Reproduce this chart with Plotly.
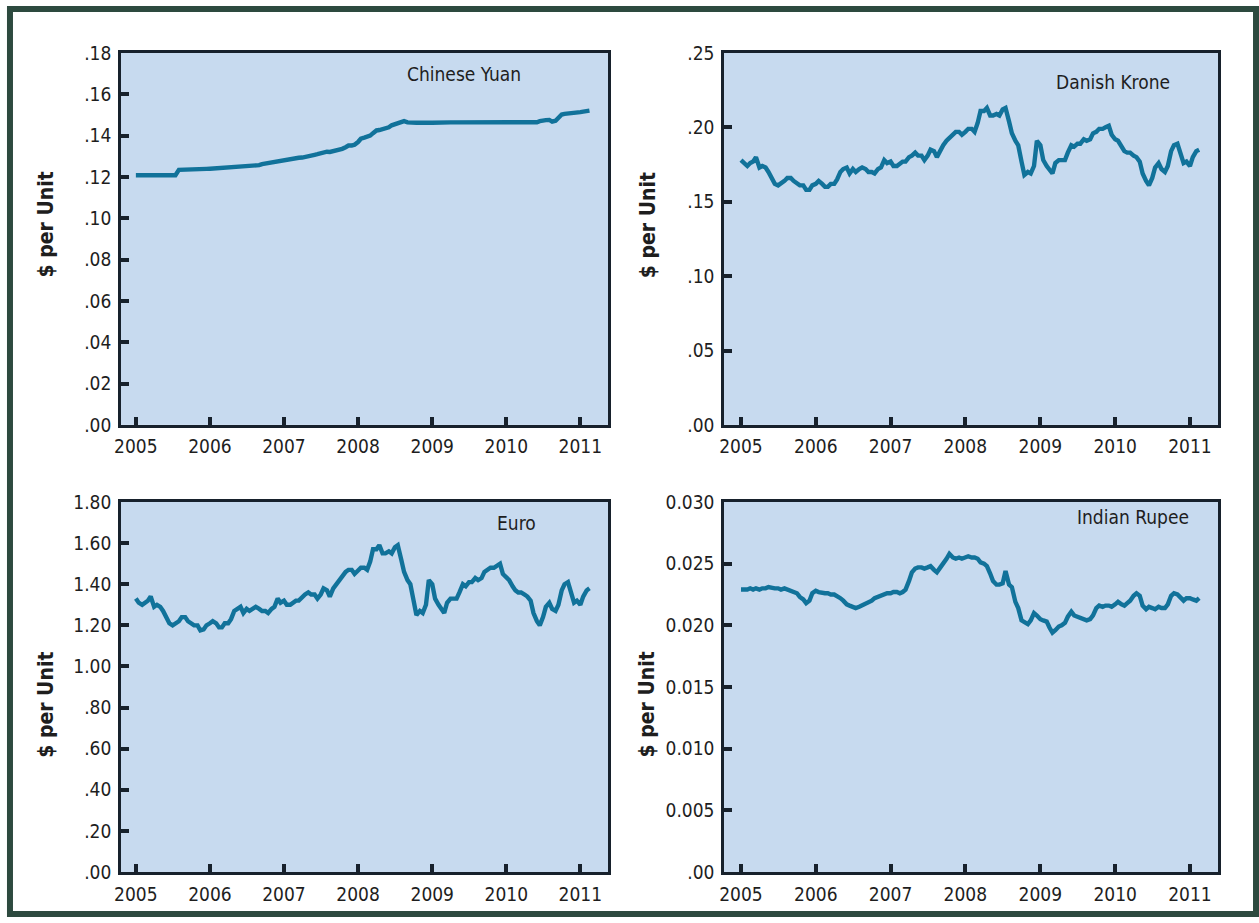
import plotly.graph_objects as go

# ---------------- data (semi-monthly readings, Jan 2005 - Feb 2011) ----------------
dates = []
for yr in range(2005, 2012):
    for mo in range(1, 13):
        for dy in (1, 15):
            if yr == 2011 and mo > 2:
                break
            dates.append(f"{yr}-{mo:02d}-{dy:02d}")

yuan = [
    0.1208, 0.1208, 0.1208, 0.1208, 0.1208, 0.1208, 0.1208, 0.1208, 0.1208, 0.1208, 0.1208, 0.1208,
    0.1208, 0.1208, 0.1234, 0.1234, 0.1236, 0.1236, 0.1237, 0.1238, 0.1238, 0.1237, 0.1238, 0.1239,
    0.1240, 0.1241, 0.1242, 0.1243, 0.1244, 0.1245, 0.1247, 0.1248, 0.1250, 0.1248, 0.1249, 0.1250,
    0.1251, 0.1252, 0.1253, 0.1254, 0.1257, 0.1262, 0.1265, 0.1266, 0.1270, 0.1273, 0.1277, 0.1280,
    0.1282, 0.1284, 0.1287, 0.1290, 0.1292, 0.1293, 0.1294, 0.1296, 0.1298, 0.1303, 0.1307, 0.1310,
    0.1314, 0.1320, 0.1322, 0.1321, 0.1324, 0.1330, 0.1333, 0.1336, 0.1344, 0.1352, 0.1352, 0.1356,
    0.1369, 0.1385, 0.1390, 0.1393, 0.1400, 0.1412, 0.1425, 0.1427, 0.1430, 0.1438, 0.1440, 0.1450,
    0.1455, 0.1460, 0.1468, 0.1470, 0.1464, 0.1463, 0.1458, 0.1462, 0.1463, 0.1464, 0.1463, 0.1462,
    0.1462, 0.1463, 0.1463, 0.1463, 0.1463, 0.1464, 0.1464, 0.1464, 0.1464, 0.1465, 0.1464, 0.1464,
    0.1464, 0.1464, 0.1464, 0.1464, 0.1464, 0.1464, 0.1464, 0.1464, 0.1465, 0.1465, 0.1465, 0.1465,
    0.1465, 0.1465, 0.1465, 0.1465, 0.1465, 0.1465, 0.1465, 0.1465, 0.1465, 0.1465, 0.1465, 0.1470,
    0.1475, 0.1475, 0.1476, 0.1468, 0.1472, 0.1490, 0.1502, 0.1505, 0.1506, 0.1508, 0.1510, 0.1512,
    0.1514, 0.1516, 0.1519, 0.1521,
]

krone = [
    0.178, 0.176, 0.174, 0.176, 0.177, 0.180, 0.173, 0.174, 0.173, 0.170, 0.165, 0.162,
    0.161, 0.162, 0.164, 0.166, 0.166, 0.164, 0.162, 0.161, 0.161, 0.158, 0.158, 0.161,
    0.162, 0.164, 0.162, 0.160, 0.160, 0.162, 0.162, 0.165, 0.170, 0.172, 0.173, 0.169,
    0.172, 0.170, 0.172, 0.173, 0.172, 0.170, 0.170, 0.169, 0.172, 0.173, 0.178, 0.176,
    0.177, 0.174, 0.174, 0.176, 0.177, 0.177, 0.180, 0.181, 0.183, 0.181, 0.181, 0.178,
    0.181, 0.185, 0.184, 0.180, 0.185, 0.188, 0.191, 0.193, 0.196, 0.197, 0.197, 0.195,
    0.197, 0.199, 0.199, 0.197, 0.203, 0.211, 0.211, 0.213, 0.208, 0.208, 0.209, 0.208,
    0.212, 0.213, 0.204, 0.196, 0.191, 0.188, 0.177, 0.168, 0.170, 0.169, 0.174, 0.191,
    0.188, 0.178, 0.174, 0.172, 0.169, 0.176, 0.178, 0.178, 0.178, 0.183, 0.188, 0.187,
    0.189, 0.189, 0.192, 0.191, 0.192, 0.196, 0.197, 0.199, 0.199, 0.200, 0.201, 0.195,
    0.192, 0.191, 0.187, 0.184, 0.183, 0.183, 0.181, 0.180, 0.177, 0.169, 0.164, 0.161,
    0.166, 0.173, 0.176, 0.172, 0.170, 0.174, 0.184, 0.188, 0.189, 0.183, 0.176, 0.177,
    0.174, 0.180, 0.184, 0.185,
]

euro = [
    1.33, 1.31, 1.30, 1.31, 1.32, 1.34, 1.29, 1.30, 1.29, 1.27, 1.23, 1.21,
    1.20, 1.21, 1.22, 1.24, 1.24, 1.22, 1.21, 1.20, 1.20, 1.175, 1.18, 1.20,
    1.21, 1.22, 1.21, 1.19, 1.19, 1.21, 1.21, 1.23, 1.27, 1.28, 1.29, 1.26,
    1.28, 1.27, 1.28, 1.29, 1.28, 1.27, 1.27, 1.26, 1.28, 1.29, 1.33, 1.31,
    1.32, 1.30, 1.30, 1.31, 1.32, 1.32, 1.34, 1.35, 1.36, 1.35, 1.35, 1.33,
    1.35, 1.38, 1.37, 1.34, 1.38, 1.40, 1.42, 1.44, 1.46, 1.47, 1.47, 1.45,
    1.47, 1.48, 1.48, 1.47, 1.51, 1.57, 1.57, 1.59, 1.55, 1.55, 1.56, 1.55,
    1.58, 1.59, 1.52, 1.46, 1.42, 1.40, 1.32, 1.25, 1.27, 1.26, 1.30, 1.42,
    1.40, 1.33, 1.30, 1.28, 1.26, 1.31, 1.33, 1.33, 1.33, 1.36, 1.40, 1.39,
    1.41, 1.41, 1.43, 1.42, 1.43, 1.46, 1.47, 1.48, 1.48, 1.49, 1.50, 1.45,
    1.43, 1.42, 1.39, 1.37, 1.36, 1.36, 1.35, 1.34, 1.32, 1.26, 1.22, 1.20,
    1.24, 1.29, 1.31, 1.28, 1.27, 1.30, 1.37, 1.40, 1.41, 1.36, 1.31, 1.32,
    1.30, 1.34, 1.37, 1.38,
]

rupee = [
    0.0229, 0.0229, 0.0229, 0.0230, 0.0229, 0.0230, 0.0229, 0.0230, 0.0230, 0.0231, 0.0230, 0.0230,
    0.0230, 0.0229, 0.0230, 0.0229, 0.0228, 0.0227, 0.0226, 0.0223, 0.0221, 0.0218, 0.0220, 0.0226,
    0.0228, 0.0227, 0.0226, 0.0226, 0.0226, 0.0225, 0.0225, 0.0224, 0.0222, 0.0220, 0.0217, 0.0216,
    0.0215, 0.0214, 0.0215, 0.0216, 0.0217, 0.0218, 0.0220, 0.0222, 0.0223, 0.0224, 0.0225, 0.0226,
    0.0226, 0.0227, 0.0227, 0.0226, 0.0227, 0.0229, 0.0236, 0.0243, 0.0246, 0.0247, 0.0247, 0.0246,
    0.0247, 0.0248, 0.0245, 0.0243, 0.0247, 0.0250, 0.0254, 0.0258, 0.0255, 0.0254, 0.0255, 0.0254,
    0.0255, 0.0256, 0.0255, 0.0255, 0.0254, 0.0251, 0.0250, 0.0248, 0.0242, 0.0236, 0.0233, 0.0233,
    0.0234, 0.0244, 0.0233, 0.0231, 0.0219, 0.0214, 0.0204, 0.0203, 0.0201, 0.0204, 0.0210, 0.0208,
    0.0205, 0.0204, 0.0203, 0.0198, 0.0194, 0.0196, 0.0199, 0.0200, 0.0202, 0.0207, 0.0211, 0.0208,
    0.0207, 0.0206, 0.0205, 0.0204, 0.0205, 0.0208, 0.0214, 0.0216, 0.0215, 0.0216, 0.0216, 0.0215,
    0.0217, 0.0219, 0.0217, 0.0216, 0.0218, 0.0220, 0.0224, 0.0226, 0.0224, 0.0216, 0.0213, 0.0215,
    0.0214, 0.0213, 0.0215, 0.0214, 0.0214, 0.0217, 0.0224, 0.0226, 0.0225, 0.0222, 0.0220, 0.0222,
    0.0222, 0.0221, 0.0220, 0.0222,
]

year_ticks = ["2005-01-01", "2006-01-01", "2007-01-01", "2008-01-01",
              "2009-01-01", "2010-01-01", "2011-01-01"]
year_labels = ["2005", "2006", "2007", "2008", "2009", "2010", "2011"]

yuan_ticks = [0, 0.02, 0.04, 0.06, 0.08, 0.10, 0.12, 0.14, 0.16, 0.18]
yuan_labels = [".00", ".02", ".04", ".06", ".08", ".10", ".12", ".14", ".16", ".18"]
krone_ticks = [0, 0.05, 0.10, 0.15, 0.20, 0.25]
krone_labels = [".00", ".05", ".10", ".15", ".20", ".25"]
euro_ticks = [0, 0.2, 0.4, 0.6, 0.8, 1.0, 1.2, 1.4, 1.6, 1.8]
euro_labels = [".00", ".20", ".40", ".60", ".80", "1.00", "1.20", "1.40", "1.60", "1.80"]
rupee_ticks = [0, 0.005, 0.010, 0.015, 0.020, 0.025, 0.030]
rupee_labels = [".00", "0.005", "0.010", "0.015", "0.020", "0.025", "0.030"]

titles = ["Chinese Yuan", "Danish Krone", "Euro", "Indian Rupee"]
y_title = "$ per Unit"

# ---------------- styling ----------------
W, H = 1259, 923
FONT = "Liberation Sans Narrow, Arial Narrow, DejaVu Sans Condensed, sans-serif"
LINE = "#11729a"
AXC = "#17212c"
PLOTBG = "#c7daef"
FRAME = "#2d4a3f"

def px_x(p):
    return p / W

def px_y(p):
    return 1 - p / H

panels = [
    (yuan, yuan_ticks, yuan_labels, [0, 0.18], (114.5, 604.5), (43, 424),
     ["2004-10-19", "2011-05-18"], (460, 65)),
    (krone, krone_ticks, krone_labels, [0, 0.25], (721, 1218), (43, 424),
     ["2004-10-10", "2011-05-19"], (1112, 73)),
    (euro, euro_ticks, euro_labels, [0, 1.80], (114.5, 604.5), (503, 882),
     ["2004-10-19", "2011-05-18"], (512, 524)),
    (rupee, rupee_ticks, rupee_labels, [0, 0.030], (721, 1218), (503, 882),
     ["2004-10-10", "2011-05-19"], (1132, 518)),
]

fig = go.Figure()
layout = {}
annotations = []
ylab_pos = [(39, 219), (644, 219), (39, 711), (644, 710)]

for i, (ser, yt, yl, yr, xd, yd, xr, tpos) in enumerate(panels):
    n = i + 1
    xa = "x" if n == 1 else f"x{n}"
    ya = "y" if n == 1 else f"y{n}"
    fig.add_trace(go.Scatter(x=dates, y=ser, mode="lines", xaxis=xa, yaxis=ya,
                             line=dict(color=LINE, width=4.4), showlegend=False,
                             hoverinfo="skip"))
    common = dict(showgrid=False, zeroline=False, showline=True, mirror=True,
                  linecolor=AXC, linewidth=2.5, ticks="inside", ticklen=8,
                  tickwidth=3.5, tickcolor=AXC,
                  tickfont=dict(family=FONT, size=19, color="#1e1e1e"))
    layout["xaxis" if n == 1 else f"xaxis{n}"] = dict(
        common, domain=[px_x(xd[0]), px_x(xd[1])], range=xr, type="date",
        tickmode="array", tickvals=year_ticks, ticktext=year_labels,
        anchor=ya, ticklabelstandoff=3)
    layout["yaxis" if n == 1 else f"yaxis{n}"] = dict(
        common, domain=[px_y(yd[1]), px_y(yd[0])], range=yr,
        tickmode="array", tickvals=yt, ticktext=yl, anchor=xa,
        ticklabelstandoff=3)
    annotations.append(dict(text=titles[i], x=px_x(tpos[0]), y=px_y(tpos[1]),
                            xref="paper", yref="paper", showarrow=False,
                            xanchor="center", yanchor="middle",
                            font=dict(family=FONT, size=19, color="#1e1e1e")))
    annotations.append(dict(text=y_title, x=px_x(ylab_pos[i][0]), y=px_y(ylab_pos[i][1]),
                            xref="paper", yref="paper", showarrow=False,
                            textangle=-90, xanchor="center", yanchor="middle",
                            font=dict(family=FONT, size=21, color="#1e1e1e", weight="bold")))

shapes = [dict(type="rect", xref="paper", yref="paper",
               x0=px_x(3), x1=px_x(1256), y0=px_y(925), y1=px_y(-2),
               line=dict(color=FRAME, width=6), fillcolor="rgba(0,0,0,0)", layer="above")]

fig.update_layout(width=W, height=H, margin=dict(l=0, r=0, t=0, b=0),
                  paper_bgcolor="white", plot_bgcolor=PLOTBG,
                  annotations=annotations, shapes=shapes, **layout)

page_css = ("document.documentElement.style.margin='0';"
            "document.documentElement.style.padding='0';"
            "document.documentElement.style.overflow='hidden';"
            "document.documentElement.style.background='" + FRAME + "';"
            "document.body.style.margin='0';"
            "document.body.style.padding='0';"
            "document.body.style.overflow='hidden';"
            "document.body.style.background='" + FRAME + "';")

fig.write_html("out.html", post_script=page_css, config={"displayModeBar": False})
